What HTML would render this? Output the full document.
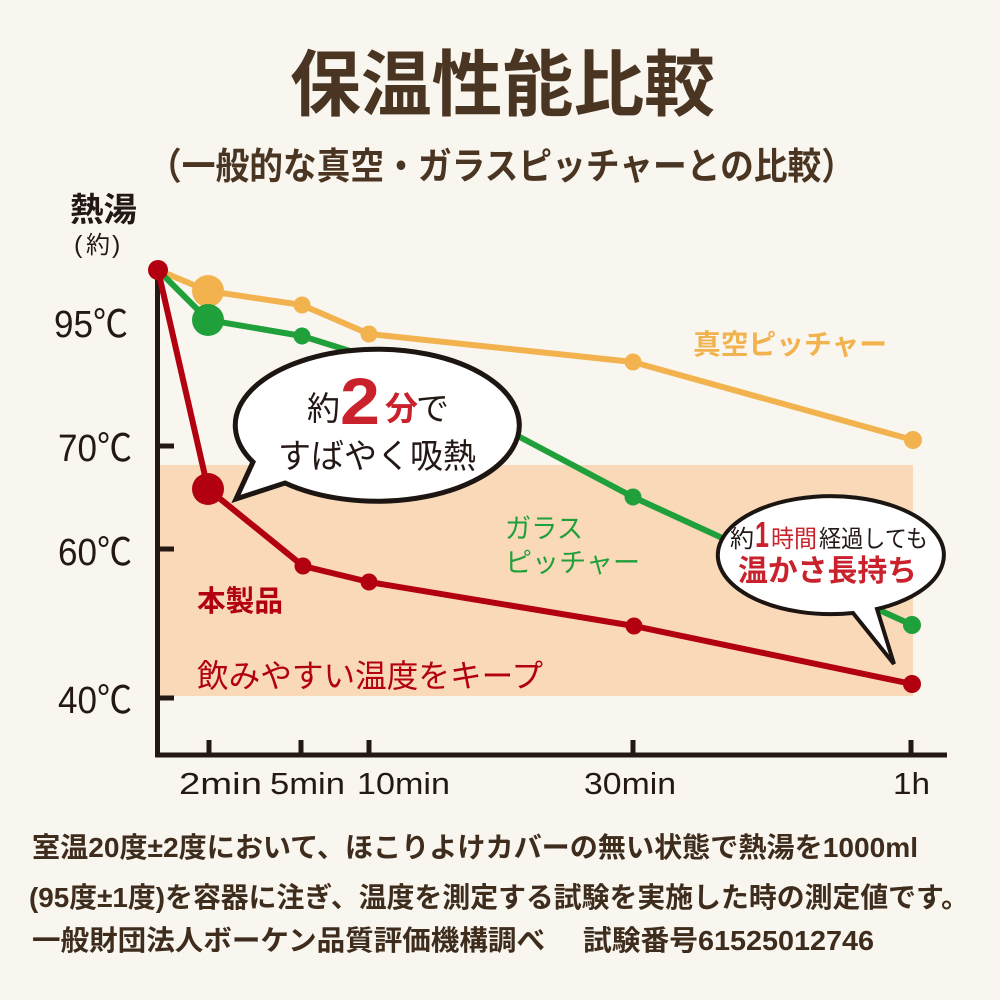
<!DOCTYPE html>
<html><head><meta charset="utf-8">
<style>
html,body{margin:0;padding:0;background:#f8f6ef;}
svg{display:block;}
text{font-family:"Liberation Sans","Noto Sans CJK JP",sans-serif;}
</style></head>
<body>
<svg width="1000" height="1000" viewBox="0 0 1000 1000" xmlns="http://www.w3.org/2000/svg">
<rect x="0" y="0" width="1000" height="1000" fill="#f8f6ef"/>
<!-- title -->
<text x="290" y="110" font-size="72" font-weight="bold" fill="#4a3522" textLength="425" lengthAdjust="spacingAndGlyphs">保温性能比較</text>
<text x="148" y="179" font-size="37" font-weight="bold" fill="#4a3522" textLength="707" lengthAdjust="spacingAndGlyphs">（一般的な真空・ガラスピッチャーとの比較）</text>
<!-- axis title -->
<text x="70" y="221" font-size="33" font-weight="bold" fill="#231815" textLength="67" lengthAdjust="spacingAndGlyphs">熱湯</text>
<text x="74" y="253" font-size="25" fill="#231815">(</text>
<text x="86" y="253" font-size="24" fill="#231815">約</text>
<text x="112" y="253" font-size="25" fill="#231815">)</text>
<!-- band -->
<rect x="160" y="465" width="753" height="231" fill="#f9d9b8"/>
<!-- axes -->
<line x1="157.5" y1="272" x2="157.5" y2="757" stroke="#231815" stroke-width="5"/>
<line x1="155" y1="755" x2="947" y2="755" stroke="#231815" stroke-width="5"/>
<g stroke="#231815" stroke-width="5">
<line x1="157" y1="446" x2="174" y2="446"/>
<line x1="157" y1="549" x2="174" y2="549"/>
<line x1="157" y1="698" x2="174" y2="698"/>
<line x1="209" y1="740" x2="209" y2="755"/>
<line x1="301" y1="740" x2="301" y2="755"/>
<line x1="369" y1="740" x2="369" y2="755"/>
<line x1="633" y1="740" x2="633" y2="755"/>
<line x1="911" y1="740" x2="911" y2="755"/>
</g>
<!-- y labels -->
<g font-size="38" fill="#231815">
<text x="54" y="337" textLength="74" lengthAdjust="spacingAndGlyphs">95℃</text>
<text x="58" y="461" textLength="74" lengthAdjust="spacingAndGlyphs">70℃</text>
<text x="58" y="565" textLength="74" lengthAdjust="spacingAndGlyphs">60℃</text>
<text x="58" y="713" textLength="74" lengthAdjust="spacingAndGlyphs">40℃</text>
</g>
<!-- x labels -->
<g font-size="31" fill="#231815">
<text x="179" y="794" textLength="83" lengthAdjust="spacingAndGlyphs">2min</text>
<text x="270" y="794" textLength="75" lengthAdjust="spacingAndGlyphs">5min</text>
<text x="357" y="794" textLength="93" lengthAdjust="spacingAndGlyphs">10min</text>
<text x="584" y="794" textLength="92" lengthAdjust="spacingAndGlyphs">30min</text>
<text x="893" y="794" textLength="37" lengthAdjust="spacingAndGlyphs">1h</text>
</g>
<!-- series -->
<polyline points="158,270 208,291 302,305 369,334 633,362 913,440" fill="none" stroke="#f2b34f" stroke-width="6" stroke-linejoin="round" stroke-linecap="round"/>
<polyline points="158,270 208,320 302,336 369,357 633,497 912,625" fill="none" stroke="#20a03a" stroke-width="6" stroke-linejoin="round" stroke-linecap="round"/>
<polyline points="158,270 208,489 303,566 369,582 634,626 912,684" fill="none" stroke="#b30010" stroke-width="6" stroke-linejoin="round" stroke-linecap="round"/>
<g fill="#f2b34f">
<circle cx="208" cy="291" r="16"/>
<circle cx="302" cy="305" r="8.5"/>
<circle cx="369" cy="334" r="8.5"/>
<circle cx="633" cy="362" r="8.5"/>
<circle cx="913" cy="440" r="9"/>
</g>
<g fill="#20a03a">
<circle cx="208" cy="320" r="16"/>
<circle cx="302" cy="336" r="8.5"/>
<circle cx="369" cy="357" r="8.5"/>
<circle cx="633" cy="497" r="8.5"/>
<circle cx="912" cy="625" r="9"/>
</g>
<g fill="#b30010">
<circle cx="158" cy="270" r="10"/>
<circle cx="208" cy="489" r="16"/>
<circle cx="303" cy="566" r="8.5"/>
<circle cx="369" cy="582" r="8.5"/>
<circle cx="634" cy="626" r="8.5"/>
<circle cx="912" cy="684" r="9"/>
</g>
<!-- series labels -->
<text x="693" y="354" font-size="28" font-weight="bold" fill="#f2b34f" textLength="194" lengthAdjust="spacingAndGlyphs">真空ピッチャー</text>
<text x="505" y="538" font-size="27" fill="#20a03a" textLength="78" lengthAdjust="spacingAndGlyphs">ガラス</text>
<text x="505" y="572" font-size="27" fill="#20a03a" textLength="135" lengthAdjust="spacingAndGlyphs">ピッチャー</text>
<text x="197" y="611" font-size="29" font-weight="bold" fill="#b30010" textLength="86" lengthAdjust="spacingAndGlyphs">本製品</text>
<text x="197" y="687" font-size="32" fill="#b30010" textLength="346" lengthAdjust="spacingAndGlyphs">飲みやすい温度をキープ</text>
<!-- bubble 1 -->
<path d="M285,483 A142,76 0 1 0 253,462 L236,499 Z" fill="#ffffff" stroke="#1c1512" stroke-width="5" stroke-linejoin="miter"/>
<text x="307" y="420" font-size="33" fill="#231815">約</text>
<text x="340" y="424" font-size="66" font-weight="bold" fill="#c9222c" textLength="40" lengthAdjust="spacingAndGlyphs">2</text>
<text x="385" y="420" font-size="33" font-weight="bold" fill="#c9222c">分</text>
<text x="416" y="420" font-size="33" fill="#231815">で</text>
<text x="278" y="468" font-size="34" fill="#231815" textLength="198" lengthAdjust="spacingAndGlyphs">すばやく吸熱</text>
<!-- bubble 2 -->
<path d="M877,609 A113,59 0 1 0 853,613 L894,664 Z" fill="#ffffff" stroke="#1c1512" stroke-width="4" stroke-linejoin="miter"/>
<text x="730" y="547" font-size="24" fill="#231815">約</text>
<text x="755" y="547" font-size="36" font-weight="bold" fill="#c9222c" textLength="14" lengthAdjust="spacingAndGlyphs">1</text>
<text x="771" y="547" font-size="24" fill="#c9222c" textLength="46" lengthAdjust="spacingAndGlyphs">時間</text>
<text x="819" y="547" font-size="24" fill="#231815" textLength="109" lengthAdjust="spacingAndGlyphs">経過しても</text>
<text x="738" y="581" font-size="30" font-weight="bold" fill="#c9222c" textLength="179" lengthAdjust="spacingAndGlyphs">温かさ長持ち</text>
<!-- footer -->
<g font-size="28" font-weight="600" fill="#3e2c1d">
<text x="32" y="857" textLength="886" lengthAdjust="spacingAndGlyphs">室温20度±2度において、ほこりよけカバーの無い状態で熱湯を1000ml</text>
<text x="29" y="907" textLength="940" lengthAdjust="spacingAndGlyphs">(95度±1度)を容器に注ぎ、温度を測定する試験を実施した時の測定値です。</text>
<text x="32" y="950" textLength="513" lengthAdjust="spacingAndGlyphs">一般財団法人ボーケン品質評価機構調べ</text>
<text x="583" y="950" textLength="291" lengthAdjust="spacingAndGlyphs">試験番号61525012746</text>
</g>
</svg>
</body></html>
